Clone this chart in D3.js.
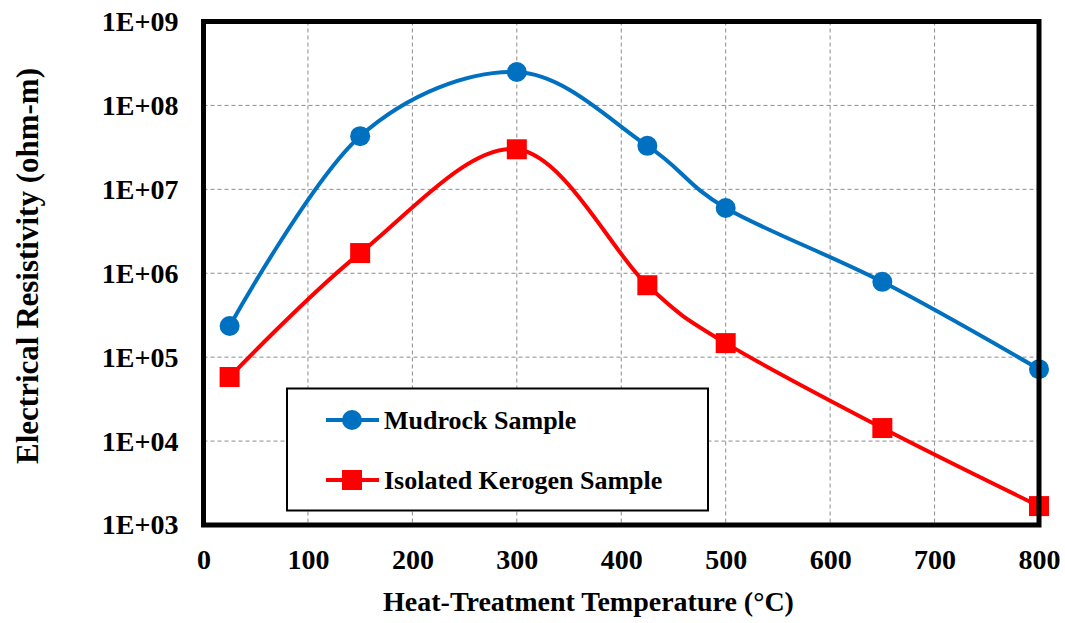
<!DOCTYPE html>
<html>
<head>
<meta charset="utf-8">
<script src="https://cdn.jsdelivr.net/npm/d3@7"></script>
<style>
  body { margin: 0; background: #fff; }
  text { font-family: "Liberation Serif", "Times New Roman", serif; font-weight: bold; }
</style>
</head>
<body>
<div id="chart"></div>
<script>
// Data
var temps = [25, 150, 300, 425, 500, 650, 800];
var mudrock = [2.35e5, 4.3e7, 2.5e8, 3.3e7, 6.0e6, 7.9e5, 7.2e4];
var kerogen = [5.8e4, 1.74e6, 3.0e7, 7.2e5, 1.47e5, 1.43e4, 1.68e3];
var xTicks = [0, 100, 200, 300, 400, 500, 600, 700, 800];
var yTicks = [1e3, 1e4, 1e5, 1e6, 1e7, 1e8, 1e9];
var seriesNames = ["Mudrock Sample", "Isolated Kerogen Sample"];

// Chart setup
var svgWidth = 1065;
var svgHeight = 623;
var margin = { top: 21.5, right: 26, bottom: 98, left: 203.5 };
var width = svgWidth - margin.left - margin.right;
var height = svgHeight - margin.top - margin.bottom;

var svg = d3.select("#chart").append("svg")
    .attr("width", svgWidth)
    .attr("height", svgHeight);

var chartGroup = svg.append("g")
    .attr("transform", `translate(${margin.left}, ${margin.top})`);

var x = d3.scaleLinear().domain([0, 800]).range([0, width]);
var y = d3.scaleLog().domain([1e3, 1e9]).range([height, 0]);

// Gridlines
chartGroup.selectAll(".vgrid")
    .data(xTicks.slice(1, -1))
    .enter().append("line")
    .attr("x1", d => x(d)).attr("x2", d => x(d))
    .attr("y1", 0).attr("y2", height)
    .attr("stroke", "#8c8c8c").attr("stroke-width", 1)
    .attr("stroke-dasharray", "4,3");

chartGroup.selectAll(".hgrid")
    .data(yTicks.slice(1, -1))
    .enter().append("line")
    .attr("x1", 0).attr("x2", width)
    .attr("y1", d => y(d)).attr("y2", d => y(d))
    .attr("stroke", "#8c8c8c").attr("stroke-width", 1)
    .attr("stroke-dasharray", "4,3");

// Axes
var bottomAxis = d3.axisBottom(x).tickValues(xTicks).tickSize(0).tickPadding(24);
var leftAxis = d3.axisLeft(y).tickValues(yTicks).tickSize(0).tickPadding(25)
    .tickFormat(d => "1E+" + String(Math.round(Math.log10(d))).padStart(2, "0"));

var gx = chartGroup.append("g")
    .attr("transform", `translate(0, ${height})`)
    .call(bottomAxis);
var gy = chartGroup.append("g").call(leftAxis);
[gx, gy].forEach(function(g) {
  g.select(".domain").remove();
  g.selectAll("text").attr("font-size", "28px").attr("fill", "#000")
    .style("font-family", "'Liberation Serif', serif").style("font-weight", "bold");
});

// Series
var series = [
  { name: seriesNames[0], values: mudrock, color: "#0070C0", shape: "circle" },
  { name: seriesNames[1], values: kerogen, color: "#FF0000", shape: "square" }
];

var line = d3.line()
    .x(d => x(d[0]))
    .y(d => y(d[1]))
    .curve(d3.curveCatmullRom.alpha(0));

series.forEach(function(s) {
  var pts = temps.map((t, i) => [t, s.values[i]]);
  chartGroup.append("path")
    .datum(pts)
    .attr("d", line)
    .attr("fill", "none")
    .attr("stroke", s.color)
    .attr("stroke-width", 4);
  if (s.shape === "circle") {
    chartGroup.selectAll(null).data(pts).enter().append("circle")
      .attr("cx", d => x(d[0])).attr("cy", d => y(d[1]))
      .attr("r", 10).attr("fill", s.color);
  } else {
    chartGroup.selectAll(null).data(pts).enter().append("rect")
      .attr("x", d => x(d[0]) - 10).attr("y", d => y(d[1]) - 10)
      .attr("width", 20).attr("height", 20).attr("fill", s.color);
  }
});

// Plot frame
chartGroup.append("rect")
    .attr("x", 0).attr("y", 0)
    .attr("width", width).attr("height", height)
    .attr("fill", "none").attr("stroke", "#000").attr("stroke-width", 5);

// Legend
var legend = svg.append("g");
legend.append("rect")
    .attr("x", 287).attr("y", 388.5)
    .attr("width", 421).attr("height", 122)
    .attr("fill", "#fff").attr("stroke", "#000").attr("stroke-width", 2);

series.forEach(function(s, i) {
  var ly = 420 + i * 60;
  legend.append("line")
    .attr("x1", 326).attr("x2", 379).attr("y1", ly).attr("y2", ly)
    .attr("stroke", s.color).attr("stroke-width", 4);
  if (s.shape === "circle") {
    legend.append("circle").attr("cx", 352).attr("cy", ly).attr("r", 10).attr("fill", s.color);
  } else {
    legend.append("rect").attr("x", 342).attr("y", ly - 10).attr("width", 20).attr("height", 20).attr("fill", s.color);
  }
  legend.append("text")
    .attr("x", 384).attr("y", ly + 9)
    .attr("font-size", "26px")
    .text(s.name);
});

// Axis titles
svg.append("text")
    .attr("x", 588.5).attr("y", 611)
    .attr("text-anchor", "middle")
    .attr("font-size", "28px")
    .text("Heat-Treatment Temperature (°C)");

svg.append("text")
    .attr("transform", "translate(38, 266) rotate(-90)")
    .attr("text-anchor", "middle")
    .attr("font-size", "31px")
    .text("Electrical Resistivity (ohm-m)");
</script>
</body>
</html>
